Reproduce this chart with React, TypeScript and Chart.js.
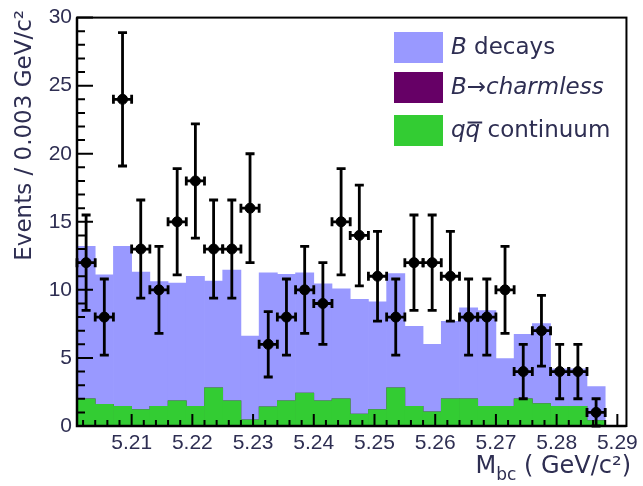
import React, { useEffect, useRef } from 'react';
import { Chart, registerables } from 'chart.js';

Chart.register(...registerables);

// Bin centres (bin width 0.003 GeV/c^2)
const binCenters = [
  5.2025, 5.2055, 5.2085, 5.2115, 5.2145, 5.2175, 5.2205, 5.2235, 5.2265, 5.2295,
  5.2325, 5.2355, 5.2385, 5.2415, 5.2445, 5.2475, 5.2505, 5.2535, 5.2565, 5.2595,
  5.2625, 5.2655, 5.2685, 5.2715, 5.2745, 5.2775, 5.2805, 5.2835, 5.2865, 5.2895,
];

// Data points (events per bin) and their errors
const dataCounts = [
  12, 8, 24, 13, 10, 15, 18, 13, 13, 16,
  6, 8, 10, 9, 15, 14, 11, 8, 12, 12,
  11, 8, 8, 10, 4, 7, 4, 4, 1,
];
const dataErrors = [
  3.5, 2.8, 4.9, 3.6, 3.2, 3.9, 4.2, 3.6, 3.6, 4.0,
  2.4, 2.8, 3.2, 3.0, 3.9, 3.7, 3.3, 2.8, 3.5, 3.5,
  3.3, 2.8, 2.8, 3.2, 2.0, 2.6, 2.0, 2.0, 1.0,
];

// Stack components
const continuum = [
  2.0, 1.6, 1.45, 1.2, 1.45, 1.84, 1.45, 2.8, 1.84, 0.45,
  1.4, 1.84, 2.42, 1.84, 2.0, 0.87, 1.21, 2.81, 1.45, 1.04,
  2.0, 2.0, 1.45, 1.45, 2.0, 1.64, 1.45, 1.45, 0.4, 0,
];
const charmless = [
  0, 0, 0, 0, 0, 0, 0, 0, 0, 0,
  0, 0, 0, 0, 0, 0, 0, 0, 0, 0,
  0, 0, 0, 0, 0, 0, 0, 0, 0, 0,
];
const stackTotal = [
  13.2, 11.1, 13.2, 11.3, 10.6, 10.5, 11.0, 10.65, 11.45, 6.6,
  11.25, 11.15, 11.25, 10.45, 10.07, 9.3, 9.12, 11.2, 7.33, 6.0,
  7.68, 8.68, 8.47, 4.95, 6.73, 7.52, 4.2, 4.2, 2.9, 0,
];

const xTickValues = [5.21, 5.22, 5.23, 5.24, 5.25, 5.26, 5.27, 5.28, 5.29];
const xTickLabels = ['5.21', '5.22', '5.23', '5.24', '5.25', '5.26', '5.27', '5.28', '5.29'];
const yTickValues = [0, 5, 10, 15, 20, 25, 30];

const legendLabels = ['B decays', 'B\u2192charmless', 'continuum'];
const legendColors = ['#9999ff', '#660066', '#33cc33'];

const X_MIN = 5.201;
const X_MAX = 5.2915;
const HALF_BIN = 0.0015;

const TEXT_COLOR = '#2e2e52';
const TICK_FONT = 'Liberation Sans';
const TITLE_FONT = 'DejaVu Sans';

const framePlugin = {
  id: 'rootFrame',
  afterDatasetsDraw(chart: any) {
    const ctx = chart.ctx;
    const xs = chart.scales.x;
    const ys = chart.scales.y;
    const { left, right, top, bottom } = chart.chartArea;
    ctx.save();
    // error bars
    ctx.strokeStyle = '#000';
    ctx.lineWidth = 2.8;
    ctx.lineCap = 'butt';
    for (let i = 0; i < dataCounts.length; i++) {
      const cx = xs.getPixelForValue(binCenters[i]);
      const cy = ys.getPixelForValue(dataCounts[i]);
      const yHi = ys.getPixelForValue(dataCounts[i] + dataErrors[i]);
      const yLo = ys.getPixelForValue(Math.max(0, dataCounts[i] - dataErrors[i]));
      const xL = xs.getPixelForValue(binCenters[i] - HALF_BIN);
      const xR = xs.getPixelForValue(binCenters[i] + HALF_BIN);
      ctx.beginPath();
      ctx.moveTo(cx, yHi); ctx.lineTo(cx, yLo);
      ctx.moveTo(cx - 4.5, yHi); ctx.lineTo(cx + 4.5, yHi);
      ctx.moveTo(cx - 4.5, yLo); ctx.lineTo(cx + 4.5, yLo);
      ctx.moveTo(xL, cy); ctx.lineTo(xR, cy);
      ctx.moveTo(xL, cy - 4.5); ctx.lineTo(xL, cy + 4.5);
      ctx.moveTo(xR, cy - 4.5); ctx.lineTo(xR, cy + 4.5);
      ctx.stroke();
    }
    // frame
    ctx.lineWidth = 2;
    ctx.strokeRect(left, top, right - left, bottom - top);
    ctx.lineWidth = 2.5;
    ctx.beginPath();
    ctx.moveTo(left, top); ctx.lineTo(left, bottom); ctx.lineTo(right, bottom);
    ctx.stroke();
    // y ticks
    ctx.lineWidth = 2;
    ctx.beginPath();
    for (let v = 0; v <= 30; v += 1) {
      const y = ys.getPixelForValue(v);
      const len = v % 5 === 0 ? 16 : 8;
      ctx.moveTo(left, y); ctx.lineTo(left + len, y);
    }
    // x ticks
    for (let k = 0; k < 50; k++) {
      const v = 5.202 + 0.002 * k;
      if (v > X_MAX) break;
      const x = xs.getPixelForValue(v);
      const major = Math.abs(Math.round(v * 100) - v * 100) < 1e-6;
      const len = major ? 12 : 6;
      ctx.moveTo(x, bottom); ctx.lineTo(x, bottom - len);
    }
    ctx.stroke();
    ctx.restore();
  },
  afterDraw(chart: any) {
    const ctx = chart.ctx;
    ctx.save();
    ctx.fillStyle = TEXT_COLOR;
    // y title
    ctx.save();
    ctx.translate(25, 10);
    ctx.rotate(-Math.PI / 2);
    ctx.textAlign = 'right';
    ctx.textBaseline = 'middle';
    ctx.font = `23px "${TITLE_FONT}"`;
    ctx.fillText('Events / 0.003 GeV/c\u00b2', 0, 0);
    ctx.restore();
    // x title: M_bc ( GeV/c^2)
    ctx.textBaseline = 'alphabetic';
    ctx.textAlign = 'left';
    const big = `24px "${TITLE_FONT}"`;
    const small = `17px "${TITLE_FONT}"`;
    ctx.font = big;
    const wM = ctx.measureText('M').width;
    const rest = ' ( GeV/c\u00b2)';
    const wRest = ctx.measureText(rest).width;
    ctx.font = small;
    const wSub = ctx.measureText('bc').width;
    const xEnd = 631;
    const x0 = xEnd - (wM + wSub + wRest);
    const base = 473;
    ctx.font = big;
    ctx.fillText('M', x0, base);
    ctx.font = small;
    ctx.fillText('bc', x0 + wM, base + 7);
    ctx.font = big;
    ctx.fillText(rest, x0 + wM + wSub, base);

    // legend
    const swX = 394, swW = 49, swH = 31;
    const swY = [32, 72, 115];
    for (let i = 0; i < 3; i++) {
      ctx.fillStyle = legendColors[i];
      ctx.fillRect(swX, swY[i], swW, swH);
    }
    ctx.fillStyle = TEXT_COLOR;
    ctx.textBaseline = 'middle';
    const tx = 451;
    const it = `italic 23px "${TITLE_FONT}"`;
    const nr = `23px "${TITLE_FONT}"`;
    // B decays
    let cy = swY[0] + swH / 2 + 1;
    ctx.font = it;
    ctx.fillText('B', tx, cy);
    const w = ctx.measureText('B').width;
    ctx.font = nr;
    ctx.fillText(' decays', tx + w, cy);
    // B->charmless
    cy = swY[1] + swH / 2 + 1;
    ctx.font = it;
    ctx.fillText(legendLabels[1], tx, cy);
    // q qbar continuum
    cy = swY[2] + swH / 2 + 1;
    ctx.font = it;
    const wq = ctx.measureText('q').width;
    ctx.fillText('q', tx, cy);
    ctx.fillText('q', tx + wq, cy);
    ctx.strokeStyle = TEXT_COLOR;
    ctx.lineWidth = 2;
    ctx.beginPath();
    ctx.moveTo(tx + wq + 2, cy - 9);
    ctx.lineTo(tx + 2 * wq + 2, cy - 9);
    ctx.stroke();
    ctx.font = nr;
    ctx.fillText(' ' + legendLabels[2], tx + 2 * wq, cy);
    ctx.restore();
  },
};

export default function App() {
  const ref = useRef<HTMLCanvasElement | null>(null);
  useEffect(() => {
    document.body.style.margin = '0';
    const canvas = ref.current;
    if (!canvas) return;
    const points = binCenters.slice(0, dataCounts.length).map((x, i) => ({ x, y: dataCounts[i] }));
    const totalPts = binCenters.map((x, i) => ({ x, y: stackTotal[i] }));
    const charmPts = binCenters.map((x, i) => ({ x, y: continuum[i] + charmless[i] }));
    const contPts = binCenters.map((x, i) => ({ x, y: continuum[i] }));
    const chart = new Chart(canvas, {
      type: 'bar',
      data: {
        datasets: [
          {
            type: 'scatter',
            label: 'Data',
            data: points,
            pointRadius: 5,
            pointHoverRadius: 5,
            backgroundColor: '#000',
            borderColor: '#000',
            order: 0,
          } as any,
          {
            type: 'bar',
            label: 'q\u0305q continuum',
            data: contPts,
            backgroundColor: legendColors[2],
            borderWidth: 0,
            grouped: false,
            barPercentage: 1,
            categoryPercentage: 1,
            order: 1,
          } as any,
          {
            type: 'bar',
            label: legendLabels[1],
            data: charmPts,
            backgroundColor: legendColors[1],
            borderWidth: 0,
            grouped: false,
            barPercentage: 1,
            categoryPercentage: 1,
            order: 2,
          } as any,
          {
            type: 'bar',
            label: legendLabels[0],
            data: totalPts,
            backgroundColor: legendColors[0],
            borderWidth: 0,
            grouped: false,
            barPercentage: 1,
            categoryPercentage: 1,
            order: 3,
          } as any,
        ],
      },
      options: {
        animation: false,
        responsive: false,
        maintainAspectRatio: false,
        layout: { padding: { top: 13, right: 13, left: 0, bottom: 0 } },
        plugins: { legend: { display: false }, tooltip: { enabled: false } },
        scales: {
          x: {
            type: 'linear',
            min: X_MIN,
            max: X_MAX,
            offset: false,
            afterBuildTicks: (s: any) => {
              s.ticks = xTickValues.map((v) => ({ value: v }));
            },
            afterFit: (s: any) => {
              s.height = 60;
            },
            ticks: {
              autoSkip: false,
              maxRotation: 0,
              padding: 5,
              color: TEXT_COLOR,
              font: { family: TICK_FONT, size: 21 },
              callback: (v: any) => {
                const idx = xTickValues.findIndex((t) => Math.abs(t - Number(v)) < 1e-9);
                return idx >= 0 ? xTickLabels[idx] : '';
              },
            },
            grid: { display: false, drawTicks: false },
            border: { display: false },
          },
          y: {
            type: 'linear',
            min: 0,
            max: 30,
            afterBuildTicks: (s: any) => {
              s.ticks = yTickValues.map((v) => ({ value: v }));
            },
            afterFit: (s: any) => {
              s.width = 77;
            },
            ticks: {
              padding: 5,
              color: TEXT_COLOR,
              font: { family: TICK_FONT, size: 21 },
            },
            grid: { display: false, drawTicks: false },
            border: { display: false },
          },
        },
      } as any,
      plugins: [framePlugin],
    });
    return () => chart.destroy();
  }, []);
  return (
    <div style={{ width: 643, height: 486 }}>
      <canvas ref={ref} width={643} height={486} style={{ display: 'block', width: 643, height: 486 }} />
    </div>
  );
}
